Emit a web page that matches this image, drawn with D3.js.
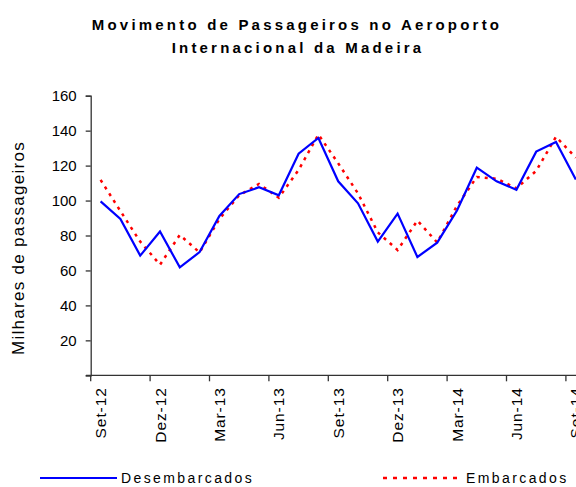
<!DOCTYPE html>
<html>
<head>
<meta charset="utf-8">
<script src="https://cdn.jsdelivr.net/npm/d3@7"></script>
<style>
  body { margin: 0; background: #fff; }
  svg { display: block; font-family: "Liberation Sans", Arial, sans-serif; }
</style>
</head>
<body>
<div id="chart"></div>
<script>
// months on the category axis
var months = ["Set-12","Out-12","Nov-12","Dez-12","Jan-13","Fev-13","Mar-13","Abr-13","Mai-13","Jun-13",
  "Jul-13","Ago-13","Set-13","Out-13","Nov-13","Dez-13","Jan-14","Fev-14","Mar-14","Abr-14",
  "Mai-14","Jun-14","Jul-14","Ago-14","Set-14"];
// milhares de passageiros
var desembarcados = [99.5, 89.5, 68.5, 82.3, 61.8, 70.5, 91.2, 103.7, 107.6, 103,
  126.8, 135.8, 111, 98.4, 76.5, 92.5, 67.7, 75.9, 94.3, 118.8,
  111, 106.2, 128, 133.5, 112];
var embarcados = [111.8, 94, 76.5, 63.3, 80.3, 70.3, 89.5, 103, 109.5, 101.6,
  117.5, 137.8, 121.3, 104.1, 81.8, 71.7, 88.5, 76, 97, 113.5,
  112.5, 107, 117, 136.5, 124.5];
var yTicks = [0, 20, 40, 60, 80, 100, 120, 140, 160];
var xTickLabels = ["Set-12","Dez-12","Mar-13","Jun-13","Set-13","Dez-13","Mar-14","Jun-14","Set-14"];

var width = 576, height = 487;

var svg = d3.select("#chart")
    .append("svg")
    .attr("width", width)
    .attr("height", height);

var x = d3.scaleBand()
    .domain(months)
    .range([90.7, 585.7])
    .padding(0);

var y = d3.scaleLinear()
    .domain([0, 160])
    .range([375.3, 95.7]);

// title
var title = svg.append("text")
    .attr("text-anchor", "middle")
    .style("font-size", "15px")
    .style("font-weight", "bold")
    .style("letter-spacing", "3.2px");
title.append("tspan").attr("x", 297).attr("y", 30).text("Movimento de Passageiros no Aeroporto");
title.append("tspan").attr("x", 298).attr("y", 53).text("Internacional da Madeira");

// y axis
var yAxis = d3.axisLeft(y)
    .tickValues(yTicks)
    .tickSize(5)
    .tickPadding(9)
    .tickFormat(function (d) { return d == 0 ? "" : d; });

var gy = svg.append("g")
    .attr("transform", "translate(90.7,0)")
    .call(yAxis);
gy.select(".domain").attr("stroke", "#333").attr("stroke-width", 1.3);
gy.selectAll(".tick line").attr("stroke", "#333").attr("stroke-width", 1.3);
gy.selectAll("text")
    .style("font-size", "15px")
    .style("font-family", "Liberation Sans, Arial, sans-serif")
    .attr("fill", "#000");

svg.append("text")
    .attr("transform", "translate(24,248) rotate(-90)")
    .attr("text-anchor", "middle")
    .style("font-size", "17px")
    .style("letter-spacing", "1.3px")
    .text("Milhares de passageiros");

// x axis: ticks every 3 months at the category edge
var xAxisLine = svg.append("g");
xAxisLine.append("line")
    .attr("x1", 86).attr("x2", width)
    .attr("y1", y(0)).attr("y2", y(0))
    .attr("stroke", "#333").attr("stroke-width", 1.3);

xAxisLine.selectAll(".xtick")
    .data(xTickLabels)
    .enter().append("line")
    .attr("class", "xtick")
    .attr("x1", function (d) { return x(d); })
    .attr("x2", function (d) { return x(d); })
    .attr("y1", y(0)).attr("y2", y(0) + 6)
    .attr("stroke", "#333").attr("stroke-width", 1.3);

xAxisLine.selectAll(".xlabel")
    .data(xTickLabels)
    .enter().append("text")
    .attr("class", "xlabel")
    .attr("text-anchor", "end")
    .attr("transform", function (d) {
      return "translate(" + (x(d) + x.bandwidth() / 2 + 5.5) + "," + (y(0) + 12) + ") rotate(-90)";
    })
    .style("font-size", "15.5px")
    .style("letter-spacing", "0.9px")
    .text(function (d) { return d; });

// lines
var cx = function (d, i) { return x(months[i]) + x.bandwidth() / 2; };

var line = d3.line()
    .x(cx)
    .y(function (d) { return y(d); });

svg.append("path")
    .datum(embarcados)
    .attr("d", line)
    .attr("fill", "none")
    .attr("stroke", "#ff0000")
    .attr("stroke-width", 2.5)
    .attr("stroke-dasharray", "3,5");

svg.append("path")
    .datum(desembarcados)
    .attr("d", line)
    .attr("fill", "none")
    .attr("stroke", "#0000ff")
    .attr("stroke-width", 2.2)
    .attr("stroke-linejoin", "miter");

// legend
var legend = svg.append("g");
legend.append("line")
    .attr("x1", 40).attr("x2", 117)
    .attr("y1", 478).attr("y2", 478)
    .attr("stroke", "#0000ff").attr("stroke-width", 2);
legend.append("text")
    .attr("x", 121).attr("y", 483)
    .style("font-size", "14px")
    .style("letter-spacing", "2.4px")
    .text("Desembarcados");
legend.append("line")
    .attr("x1", 383).attr("x2", 461)
    .attr("y1", 478).attr("y2", 478)
    .attr("stroke", "#ff0000").attr("stroke-width", 2.5)
    .attr("stroke-dasharray", "4,6");
legend.append("text")
    .attr("x", 466).attr("y", 483)
    .style("font-size", "14px")
    .style("letter-spacing", "2.4px")
    .text("Embarcados");
</script>
</body>
</html>
